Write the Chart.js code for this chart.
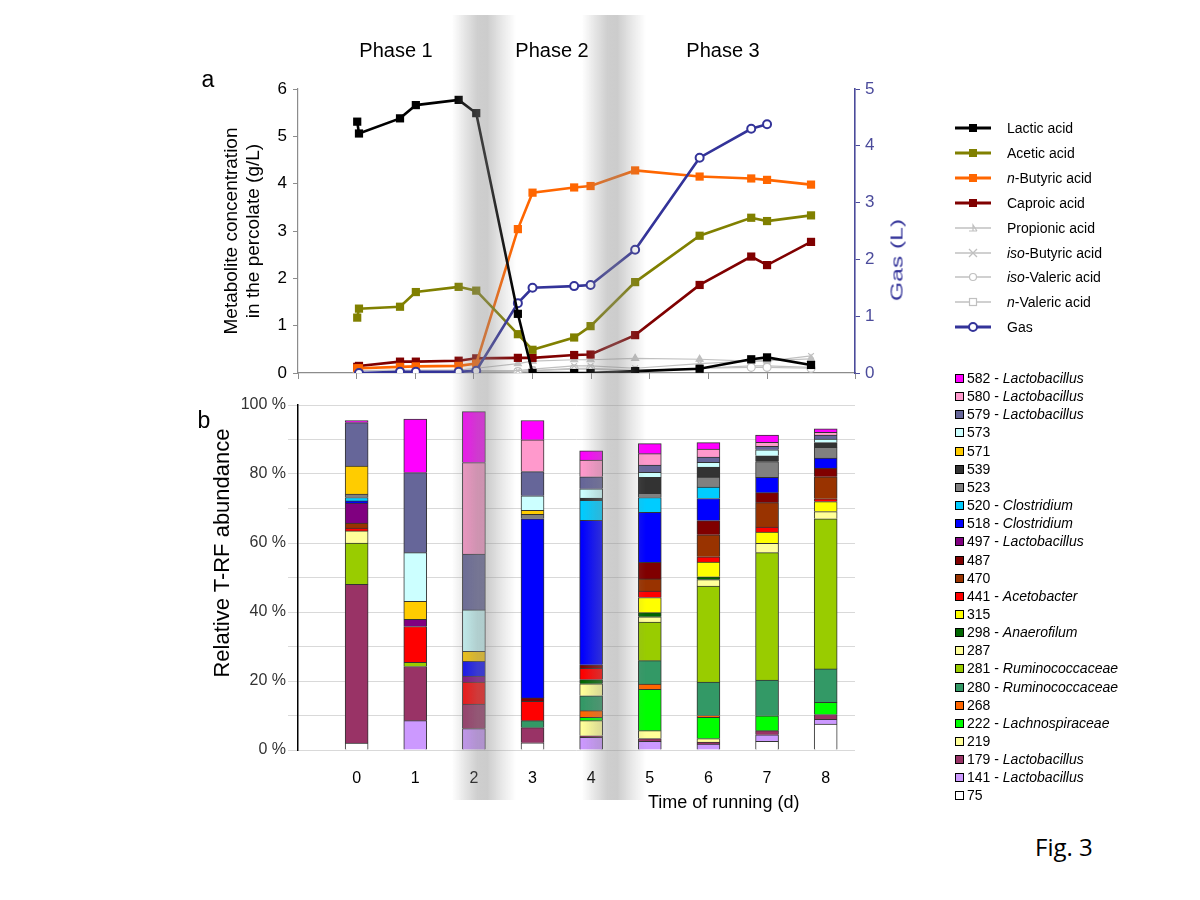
<!DOCTYPE html>
<html><head><meta charset="utf-8">
<script src="https://cdn.jsdelivr.net/npm/chart.js@4/dist/chart.umd.min.js"></script>
<style>
body{margin:0;background:#fff;}
#page{position:relative;width:1200px;height:900px;overflow:hidden;font-family:"Liberation Sans",Arial,sans-serif;color:#000;background:#fff;}
.abs{position:absolute;white-space:nowrap;line-height:1;}
.ctr{transform:translate(-50%,-50%);}
#topWrap{position:absolute;left:0;top:0;width:1200px;height:400px;}
#botWrap{position:absolute;left:0;top:380px;width:1200px;height:440px;}
.band{position:absolute;pointer-events:none;z-index:5;}
.lg1{position:absolute;left:953px;height:20px;font-size:14px;line-height:20px;white-space:nowrap;}
.lg1 svg{position:absolute;left:0;top:4px;}
.lg1 span{position:absolute;left:54px;top:0;}
.lg2{position:absolute;left:955px;height:18px;font-size:14px;line-height:18px;white-space:nowrap;}
.lg2 b{position:absolute;left:0;top:5px;width:7px;height:7px;border:1px solid #000;}
.lg2 span{position:absolute;left:12px;top:0;}
</style></head>
<body>
<div id="page">
  <div id="topWrap"><canvas id="topCanvas" width="1200" height="400"></canvas></div>
  <div id="botWrap"><canvas id="botCanvas" width="1200" height="440"></canvas></div>

  <div class="abs ctr" style="left:396px;top:50px;font-size:20px;">Phase 1</div>
  <div class="abs ctr" style="left:552px;top:50px;font-size:20px;">Phase 2</div>
  <div class="abs ctr" style="left:723px;top:50px;font-size:20px;">Phase 3</div>
  <div class="abs ctr" style="left:208px;top:79px;font-size:23px;">a</div>
  <div class="abs ctr" style="left:204px;top:420px;font-size:23px;">b</div>
  <div class="abs" style="left:897px;top:260px;font-size:17px;color:#333399;transform:translate(-50%,-50%) rotate(-90deg) scaleX(1.45);">Gas (L)</div>
  <div class="abs" style="left:222px;top:553px;font-size:22px;transform:translate(-50%,-50%) rotate(-90deg);">Relative T-RF abundance</div>
  <div class="abs" style="left:648px;top:793px;font-size:18px;">Time of running (d)</div>
  <div class="abs" style="left:1035px;top:835px;font-size:24px;font-family:'Open Sans',sans-serif;">Fig. 3</div>
  <div id="legend1"></div>
  <div id="legend2"></div>
  <div id="bands"></div>
</div>
<script>
// ---------- Panel a: metabolites (g/L) and gas (L) ----------
const times      = [0.01, 0.04, 0.74, 1.01, 1.74, 2.04, 2.75, 3.00, 3.71, 3.99, 4.75, 5.85, 6.73, 7.00, 7.75];
const lactic     = [5.31, 5.06, 5.38, 5.66, 5.77, 5.49, 1.25, 0.00, 0.00, 0.00, 0.04, 0.09, 0.29, 0.33, 0.17];
const acetic     = [1.17, 1.36, 1.40, 1.71, 1.82, 1.74, 0.82, 0.49, 0.75, 0.99, 1.92, 2.90, 3.28, 3.21, 3.33];
const nButyric   = [0.10, 0.10, 0.13, 0.14, 0.15, 0.20, 3.04, 3.81, 3.92, 3.95, 4.28, 4.15, 4.11, 4.08, 3.98];
const caproic    = [0.13, 0.15, 0.24, 0.24, 0.26, 0.31, 0.32, 0.32, 0.38, 0.39, 0.80, 1.86, 2.46, 2.28, 2.77];
const propionic  = [0.05, 0.05, 0.06, 0.06, 0.06, 0.10, 0.20, 0.25, 0.28, 0.28, 0.31, 0.29, 0.25, 0.26, 0.30];
const isoButyric = [0.00, 0.00, 0.02, 0.02, 0.02, 0.05, 0.05, 0.08, 0.15, 0.15, 0.10, 0.20, 0.25, 0.25, 0.36];
const isoValeric = [0.00, 0.00, 0.02, 0.02, 0.02, 0.03, 0.03, 0.05, 0.08, 0.08, 0.05, 0.10, 0.12, 0.12, 0.10];
const nValeric   = [0.00, 0.00, 0.02, 0.02, 0.02, 0.05, 0.02, 0.05, 0.10, 0.10, 0.05, 0.10, 0.15, 0.15, 0.12];
const gas        = [null, 0.00, 0.02, 0.02, 0.02, 0.04, 1.23, 1.50, 1.53, 1.55, 2.17, 3.79, 4.30, 4.38, null];
const metTicksLeft = [0, 1, 2, 3, 4, 5, 6];
const gasTicks = [0, 1, 2, 3, 4, 5];

// ---------- Panel b: T-RF relative abundance (%) ----------
const days = [0, 1, 2, 3, 4, 5, 6, 7, 8];
const t75  = [2.0, 0, 0, 2.1, 0, 0, 0, 2.5, 7.5];
const t141 = [0, 8.5, 6.2, 0, 3.7, 2.5, 1.7, 1.9, 1.4];
const t179 = [46.0, 15.7, 7.1, 4.4, 0.4, 0.8, 0.6, 1.2, 1.4];
const t219 = [0, 0, 0, 0, 4.4, 2.3, 1.0, 0, 0];
const t222 = [0, 0, 0, 0, 1.0, 12.0, 6.2, 4.3, 3.5];
const t268 = [0, 0, 0, 0, 1.9, 1.5, 0.5, 0, 0];
const t280 = [0, 0, 0, 2.0, 4.3, 6.8, 9.7, 10.4, 9.7];
const t281 = [12.0, 1.2, 0, 0, 0, 11.2, 27.8, 36.9, 43.5];
const t287 = [3.5, 0, 0, 0, 3.5, 1.5, 1.9, 2.7, 2.1];
const t298 = [0, 0, 0, 0, 1.2, 1.2, 0.8, 0, 0];
const t315 = [0, 0, 0, 0, 0, 4.4, 4.3, 3.3, 2.9];
const t441 = [0.8, 10.4, 6.4, 5.6, 3.3, 1.9, 1.5, 1.4, 0.8];
const t470 = [1.5, 0, 0, 0, 0, 3.5, 6.4, 7.1, 6.4];
const t487 = [0, 0, 0, 1.0, 1.0, 4.8, 4.1, 2.9, 2.5];
const t497 = [5.8, 2.1, 1.7, 0, 0, 0, 0, 0, 0];
const t518 = [0.6, 0, 4.3, 51.9, 41.9, 14.5, 6.4, 4.4, 2.9];
const t520 = [1.0, 0, 0, 0, 5.8, 4.3, 3.3, 0, 0];
const t523 = [1.0, 0, 0, 1.3, 0, 1.2, 2.9, 4.6, 3.1];
const t539 = [0, 0, 0, 0, 0.6, 4.6, 2.9, 1.7, 1.4];
const t571 = [8.1, 5.2, 2.9, 1.2, 0, 0, 0, 0, 0];
const t573 = [0, 14.1, 12.0, 4.2, 2.7, 1.5, 1.4, 1.7, 1.0];
const t579 = [12.6, 23.2, 16.2, 7.0, 3.5, 2.1, 1.5, 1.0, 1.2];
const t580 = [0, 0, 26.5, 9.2, 4.8, 3.3, 2.3, 1.2, 0.8];
const t582 = [0.6, 15.5, 14.8, 5.6, 2.7, 2.9, 1.9, 2.1, 1.0];
const trfNames  = ['75','141','179','219','222','268','280','281','287','298','315','441','470','487','497','518','520','523','539','571','573','579','580','582'];
const trfGenus  = ['','Lactobacillus','Lactobacillus','','Lachnospiraceae','','Ruminococcaceae','Ruminococcaceae','','Anaerofilum','','Acetobacter','','','Lactobacillus','Clostridium','Clostridium','','','','','Lactobacillus','Lactobacillus','Lactobacillus'];
const trfValues = [t75,t141,t179,t219,t222,t268,t280,t281,t287,t298,t315,t441,t470,t487,t497,t518,t520,t523,t539,t571,t573,t579,t580,t582];
const trfColors = ['#FFFFFF','#CC99FF','#993366','#FFFF99','#00FF00','#FF6600','#339966','#99CC00','#FFFF99','#006600','#FFFF00','#FF0000','#993300','#800000','#800080','#0000FF','#00CCFF','#808080','#333333','#FFCC00','#CCFFFF','#666699','#FF99CC','#FF00FF'];

// shaded transition zones (in days)
const phaseBands = [[1.62, 2.72], [3.84, 4.94]];

const FAM = "'Liberation Sans', Arial, sans-serif";
Chart.defaults.font.family = FAM;

function pts(ys) { return times.map((t, i) => ({x: t, y: ys[i]})); }
function mainLine(label, ys, color) {
  return {label, data: pts(ys), yAxisID: 'y', borderColor: color, backgroundColor: color,
    borderWidth: 2.6, pointStyle: 'rect', pointRadius: 5.8, pointBorderWidth: 0, tension: 0};
}
function minorLine(label, ys, style, fill) {
  return {label, data: pts(ys), yAxisID: 'y', borderColor: '#C0C0C0', backgroundColor: fill ? '#FFFFFF' : '#C0C0C0',
    borderWidth: 1.2, pointStyle: style, pointRadius: 4, pointBorderWidth: 1.2, tension: 0};
}

const topDatasets = [
  mainLine('Lactic acid', lactic, '#000000'),
  {label: 'Gas', data: pts(gas), yAxisID: 'y2', borderColor: '#333399', backgroundColor: '#FFFFFF',
   borderWidth: 2.6, pointStyle: 'circle', pointRadius: 4, pointBorderWidth: 2, tension: 0, spanGaps: true},
  mainLine('Acetic acid', acetic, '#808000'),
  mainLine('n-Butyric acid', nButyric, '#FF6600'),
  mainLine('Caproic acid', caproic, '#800000'),
  minorLine('Propionic acid', propionic, 'triangle', false),
  minorLine('iso-Butyric acid', isoButyric, 'crossRot', false),
  minorLine('iso-Valeric acid', isoValeric, 'circle', true),
  minorLine('n-Valeric acid', nValeric, 'rect', true)
];

const topChart = new Chart(document.getElementById('topCanvas'), {
  type: 'line',
  data: {datasets: topDatasets},
  options: {
    responsive: false, animation: false,
    layout: {padding: {left: 220, right: 285, top: 89, bottom: 19}},
    plugins: {legend: {display: false}, tooltip: {enabled: false}},
    scales: {
      x: {type: 'linear', min: -1, max: 8.5,
          ticks: {display: false, stepSize: 1},
          grid: {drawOnChartArea: false, drawTicks: true, tickLength: 6, color: '#8c8c8c'},
          border: {color: '#8c8c8c', width: 1.2},
          afterFit(s) { s.height = 8; }},
      y: {type: 'linear', position: 'left', min: 0, max: 6,
          afterBuildTicks(s) { s.ticks = metTicksLeft.map(v => ({value: v})); },
          ticks: {color: '#000', font: {size: 17}, padding: 6},
          grid: {drawOnChartArea: false, tickLength: 5, color: '#8c8c8c'},
          border: {color: '#8c8c8c', width: 1.2},
          title: {display: true, text: ['Metabolite concentration', 'in the percolate (g/L)'], font: {size: 19}, color: '#000', padding: {top: 0, bottom: 0}},
          afterFit(s) { s.width = 78; }},
      y2: {type: 'linear', position: 'right', min: 0, max: 5,
          afterBuildTicks(s) { s.ticks = gasTicks.map(v => ({value: v})); },
          ticks: {color: '#4b4b9b', font: {size: 17}, padding: 5},
          grid: {drawOnChartArea: false, tickLength: 5, color: '#4b4b9b'},
          border: {color: '#4b4b9b', width: 1.6},
          afterFit(s) { s.width = 60; }}
    }
  }
});

const botChart = new Chart(document.getElementById('botCanvas'), {
  type: 'bar',
  data: {datasets: trfValues.map((vals, i) => ({
    label: trfNames[i],
    data: days.map((d, j) => ({x: d, y: vals[j]})),
    backgroundColor: trfColors[i], borderColor: '#333333', borderWidth: 1, borderSkipped: 'start',
    barThickness: 23
  }))},
  options: {
    responsive: false, animation: false,
    layout: {padding: {left: 200, right: 345, top: 25, bottom: 30}},
    plugins: {legend: {display: false}, tooltip: {enabled: false}},
    scales: {
      x: {type: 'linear', min: -1, max: 8.5, offset: false, stacked: true,
          afterBuildTicks(s) { s.ticks = days.map(v => ({value: v})); },
          grid: {display: false, offset: false}, border: {display: false},
          ticks: {color: '#000', font: {size: 16}, padding: 11, maxRotation: 0, autoSkip: false},
          afterFit(s) { s.height = 40; }},
      y: {stacked: true, min: 0, max: 100,
          ticks: {stepSize: 10, color: '#333', font: {size: 16}, padding: 2,
                  callback: v => (v % 20 === 0 ? v + ' %' : '')},
          grid: {color: '#d9d9d9', tickLength: 10},
          border: {color: '#000', width: 1.5},
          afterFit(s) { s.width = 98; }}
    }
  }
});

// ---------- legends (HTML) ----------
const lg1 = document.getElementById('legend1');
const legendItems = [
  ['Lactic acid', '#000', 'sq'], ['Acetic acid', '#808000', 'sq'], ['<i>n</i>-Butyric acid', '#FF6600', 'sq'],
  ['Caproic acid', '#800000', 'sq'], ['Propionic acid', '#C0C0C0', 'tri'], ['<i>iso</i>-Butyric acid', '#C0C0C0', 'x'],
  ['<i>iso</i>-Valeric acid', '#C0C0C0', 'o'], ['<i>n</i>-Valeric acid', '#C0C0C0', 'osq'], ['Gas', '#333399', 'circ']
];
legendItems.forEach((it, i) => {
  const [txt, c, m] = it;
  let mk = '';
  const w = (m === 'sq' || m === 'circ') ? 3 : 1.3;
  if (m === 'sq') mk = `<rect x="16" y="2" width="8" height="8" fill="${c}"/>`;
  if (m === 'circ') mk = `<circle cx="20" cy="6" r="4" fill="#fff" stroke="${c}" stroke-width="2"/>`;
  if (m === 'tri') mk = `<path d="M16 9 L24 9 M20 9 L20 3 L24 9" fill="none" stroke="${c}" stroke-width="1.2"/>`;
  if (m === 'x') mk = `<path d="M16 2 L24 10 M24 2 L16 10" stroke="${c}" stroke-width="1.3"/>`;
  if (m === 'o') mk = `<circle cx="20" cy="6" r="3.5" fill="#fff" stroke="${c}" stroke-width="1.2"/>`;
  if (m === 'osq') mk = `<rect x="16.5" y="2.5" width="7" height="7" fill="#fff" stroke="${c}" stroke-width="1.2"/>`;
  const d = document.createElement('div');
  d.className = 'lg1';
  d.style.top = (118 + i * 24.9) + 'px';
  d.innerHTML = `<svg width="40" height="12"><line x1="2" y1="6" x2="38" y2="6" stroke="${c}" stroke-width="${w}"/>${mk}</svg><span>${txt}</span>`;
  lg1.appendChild(d);
});

const lg2 = document.getElementById('legend2');
for (let k = trfNames.length - 1, r = 0; k >= 0; k--, r++) {
  const d = document.createElement('div');
  d.className = 'lg2';
  d.style.top = (369 + r * 18.15) + 'px';
  const g = trfGenus[k] ? ` - <i>${trfGenus[k]}</i>` : '';
  d.innerHTML = `<b style="background:${trfColors[k]}"></b><span>${trfNames[k]}${g}</span>`;
  lg2.appendChild(d);
}

// ---------- shaded transition bands, placed with the x scale ----------
const bandsEl = document.getElementById('bands');
const xs = topChart.scales.x;
phaseBands.forEach(([a, b]) => {
  const x0 = xs.getPixelForValue(a), x1 = xs.getPixelForValue(b);
  const d = document.createElement('div');
  d.className = 'band';
  d.style.left = x0 + 'px';
  d.style.width = (x1 - x0) + 'px';
  d.style.top = '15px';
  d.style.height = '785px';
  d.style.background = 'linear-gradient(to right, rgba(140,140,140,0) 0%, rgba(140,140,140,0.22) 20%, rgba(140,140,140,0.42) 40%, rgba(140,140,140,0.44) 55%, rgba(140,140,140,0.2) 78%, rgba(140,140,140,0) 100%)';
  bandsEl.appendChild(d);
});
</script>
</body></html>
